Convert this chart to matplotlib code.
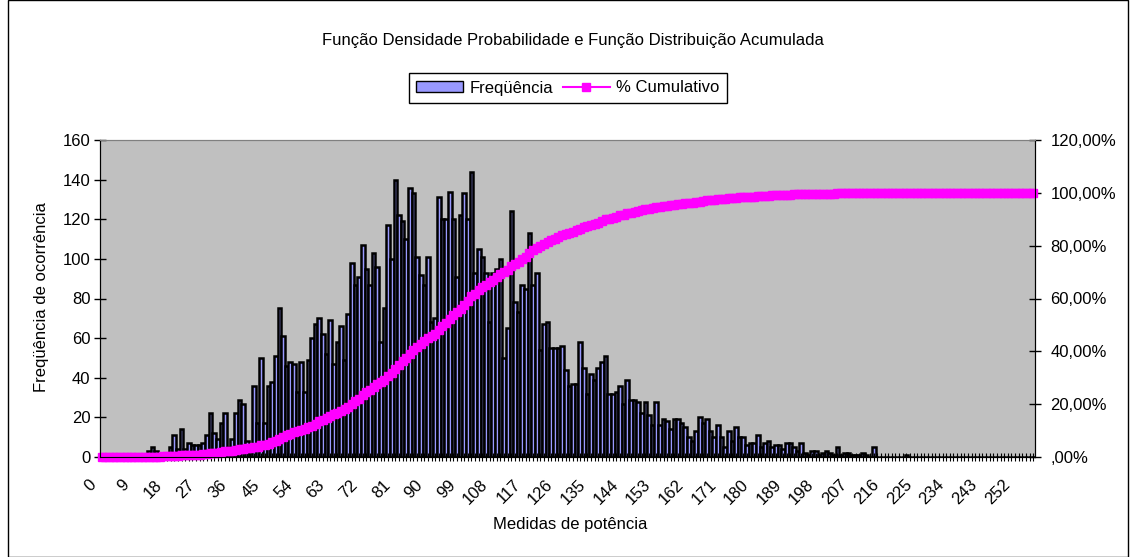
import numpy as np
import matplotlib.pyplot as plt
from matplotlib.ticker import FuncFormatter, MultipleLocator
from matplotlib.patches import Patch, Rectangle
from matplotlib.lines import Line2D
from matplotlib.transforms import ScaledTranslation

plt.rcParams['font.family'] = ['Liberation Sans', 'DejaVu Sans']

# categorias (medidas de potência) 0..257
medidas = list(range(258))

# frequências
freq_a = [0, 0, 0, 0, 0, 0, 0, 0, 0, 1, 0, 1, 1,
          3, 5, 3, 1, 2, 2, 5, 11, 4, 14, 4, 7, 6, 6, 6, 7, 11, 22, 12, 9, 17, 22,
          5, 9, 22, 29, 27, 8, 3, 36, 17, 50, 17, 36, 38, 51, 75, 61, 46, 48, 47]
freq_b = [33, 48, 33, 49, 60, 67, 70, 62, 52, 69, 47, 58, 66, 49, 72,
          98, 87, 91, 107, 95, 87, 103, 96, 58, 75, 117, 100, 140, 122, 119,
          110, 136, 133, 101, 92, 87, 101, 68, 70, 131, 120, 120, 134, 120, 91,
          122, 133, 120, 144, 93, 105, 101, 93, 68, 93, 95, 100, 50, 65, 124]
freq_c = [78, 73, 87, 85, 113, 87, 93, 54, 67, 68, 55, 55, 55, 56, 44, 36, 37, 37,
          58, 45, 32, 42, 39, 45, 48, 51, 32, 32, 33, 36, 27, 39, 29, 29, 28, 22,
          28, 21, 16, 28, 16, 19, 18, 14, 19, 19]
freq_d = [17, 15, 10, 8, 13, 20, 17, 19, 13, 10, 16, 10, 5, 13, 8, 15, 10, 10,
          6, 7, 7, 11, 5, 7, 8, 5, 6, 6, 4, 7, 7, 5, 3, 7, 2, 1, 3, 3, 1, 2, 3, 2,
          1, 5, 1, 2, 2, 1, 1, 1, 2, 1, 0, 5]
freq_e = [0, 0, 0, 0, 0, 0, 0, 0, 1, 0, 0, 0, 0, 0, 0, 0, 0, 0, 0, 0, 0, 0,
          0, 0, 0, 0, 0, 0, 0, 0, 0, 0, 0, 0, 0, 0, 0, 0, 0, 0, 0, 0, 0, 0]
frequencia = np.array(freq_a + freq_b + freq_c + freq_d + freq_e)

# % cumulativo
cumulativo = np.cumsum(frequencia) / frequencia.sum() * 100

fig = plt.figure(figsize=(11.33, 5.57), dpi=100)
ax = fig.add_axes([100 / 1133, 1 - 457 / 557, 935 / 1133, 317 / 557])
ax.set_facecolor('#C0C0C0')

ax.bar(medidas, frequencia, width=1.0, color='#9999FF', edgecolor='black', linewidth=1.8)
ax.set_xlim(-0.5, len(medidas) - 0.5)
ax.set_ylim(0, 160)
ax.yaxis.set_major_locator(MultipleLocator(20))
ax.set_xticks(medidas)
ax.set_xticklabels([str(m) if m % 9 == 0 else '' for m in medidas],
                   rotation=45, ha='right', va='top', rotation_mode='anchor')
ax.tick_params(axis='x', direction='inout', length=6, width=0.8, labelsize=12, pad=10)
ax.tick_params(axis='y', direction='inout', length=8, width=1, labelsize=12, pad=3)
ax.spines['top'].set_color('#808080')
desloc = ScaledTranslation(-13 / 100, -2 / 100, fig.dpi_scale_trans)
for lbl in ax.get_xticklabels():
    lbl.set_transform(lbl.get_transform() + desloc)

ax2 = ax.twinx()
ax2.plot(medidas, cumulativo, color='#FF00FF', marker='s', markersize=6,
         linewidth=2, clip_on=False)
ax2.set_ylim(0, 120)
ax2.yaxis.set_major_locator(MultipleLocator(20))


def pct(v, pos):
    s = f'{v:.2f}'.replace('.', ',')
    if s.startswith('0'):
        s = s[1:]
    return s + '%'


ax2.yaxis.set_major_formatter(FuncFormatter(pct))
ax2.tick_params(axis='y', direction='inout', length=8, width=1, labelsize=12, pad=7)
ax2.spines['top'].set_color('#808080')

fig.text(573 / 1133, 1 - 40 / 557,
         'Função Densidade Probabilidade e Função Distribuição Acumulada',
         ha='center', va='center', fontsize=12)
fig.text(570 / 1133, 1 - 525 / 557, 'Medidas de potência',
         ha='center', va='center', fontsize=12)
fig.text(42 / 1133, 1 - 297 / 557, 'Freqüência de ocorrência',
         ha='center', va='center', rotation=90, fontsize=12)

handles = [Patch(facecolor='#9999FF', edgecolor='black'),
           Line2D([], [], color='#FF00FF', marker='s', markersize=6, linewidth=1.5)]
leg = fig.legend(handles, ['Freqüência', '% Cumulativo'], loc='center',
                 bbox_to_anchor=(568 / 1133, 1 - 88 / 557), ncol=2, fontsize=12,
                 frameon=True, fancybox=False, framealpha=1, edgecolor='black',
                 handlelength=2.8, handleheight=0.6, handletextpad=0.4,
                 columnspacing=0.6, borderpad=0.45)
leg.get_frame().set_linewidth(1)

fig.patches.append(Rectangle((8 / 1133, 0), 1120 / 1133, 1, transform=fig.transFigure,
                             fill=False, edgecolor='black', linewidth=1))

fig.savefig('out.png', dpi=100)
